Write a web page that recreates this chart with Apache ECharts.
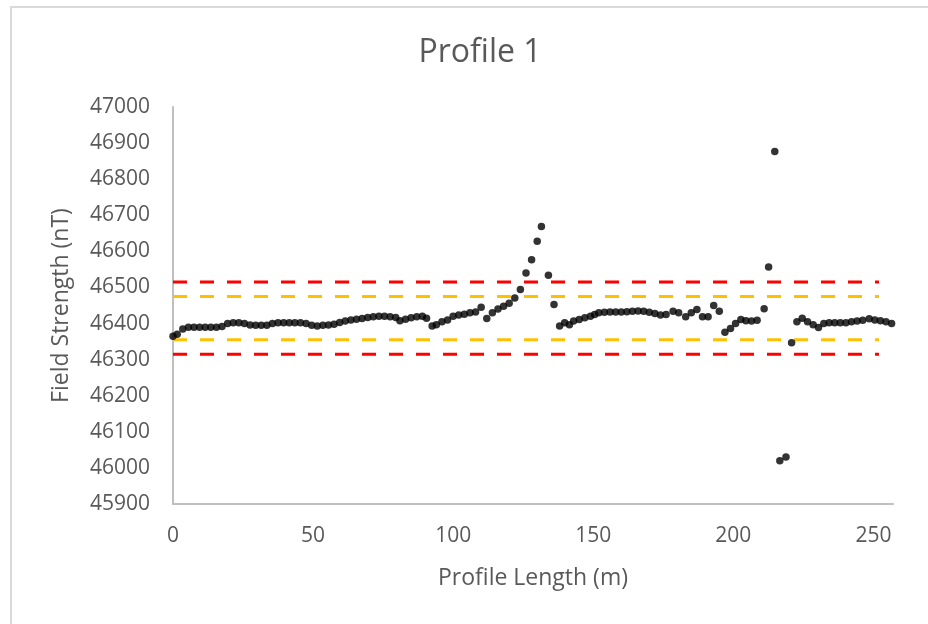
<!DOCTYPE html>
<html>
<head>
<meta charset="utf-8">
<script src="https://cdn.jsdelivr.net/npm/echarts@6/dist/echarts.min.js"></script>
<style>
  html, body { margin: 0; padding: 0; background: #fff; }
  #frame {
    position: absolute; left: 10px; top: 6px; width: 960px; height: 660px;
    border: 2px solid #d9d9d9; box-sizing: border-box;
  }
  #chart { position: absolute; left: 0; top: 0; width: 928px; height: 624px; }
</style>
</head>
<body>
<div id="frame"></div>
<div id="chart"></div>
<script>
// profile positions (m)
const profileX = [
  0, 1.5, 3.5, 5.5, 7.5, 9.5, 11.5, 13.5, 15.5, 17.5, 19.5, 21.5, 23.5, 25.5, 27.5, 29.5,
  31.5, 33.5, 35.5, 37.5, 39.5, 41.5, 43.5, 45.5, 47.5, 49.5, 51.5, 53.5, 55.5, 57.5, 59.5,
  61.5, 63.5, 65.5, 67.5, 69.5, 71.5, 73.5, 75.5, 77.5, 79.5, 81, 83, 85, 87, 89, 90.5,
  92.5, 94, 96, 98, 100, 102, 104, 106, 108, 110, 112, 114, 116, 118, 120, 122, 124, 126,
  128, 130, 131.5, 134, 136, 138, 139.8, 141.5, 143, 145, 147, 149, 150.5, 152, 154, 156,
  158, 160, 162, 164, 166, 168, 170, 172, 174, 176, 178.5, 180.5, 183, 185, 187, 189, 191,
  193, 195, 197, 199, 200.8, 202.7, 204.5, 206.5, 208.5, 211, 212.6, 214.8, 216.6, 218.8,
  220.8, 222.7, 224.6, 226.5, 228.5, 230.4, 232.3, 234.2, 236.2, 238.2, 240.2, 242.2,
  244.2, 246.2, 248.5, 250.5, 252.5, 254.5, 256.5
]
// field strength (nT)
const fieldNT = [
  46365, 46370, 46385, 46390, 46390, 46390, 46390, 46390, 46390, 46392, 46400, 46402, 46402, 46400, 46396, 46395,
  46395, 46395, 46400, 46402, 46402, 46402, 46402, 46402, 46400, 46395, 46393, 46395, 46396, 46398, 46403,
  46407, 46410, 46412, 46414, 46417, 46419, 46420, 46420, 46419, 46417, 46408, 46412, 46416, 46419, 46420, 46415,
  46393, 46397, 46405, 46410, 46420, 46424, 46426, 46430, 46432, 46445, 46414, 46430, 46440, 46448, 46456, 46471, 46494, 46540,
  46577, 46628, 46669, 46534, 46453, 46393, 46402, 46397, 46407, 46411, 46416, 46420, 46425, 46430, 46431, 46432,
  46432, 46432, 46433, 46434, 46435, 46434, 46431, 46428, 46424, 46425, 46434, 46430, 46419, 46430, 46439, 46419, 46419,
  46450, 46434, 46376, 46386, 46400, 46411, 46408, 46407, 46409, 46441, 46557, 46877, 46020, 46030,
  46347, 46405, 46415, 46405, 46397, 46389, 46400, 46402, 46402, 46402, 46402, 46405,
  46407, 46409, 46413, 46410, 46408, 46405, 46400
]
// threshold lines: mean +-100 (red), mean +-60 (yellow)
const lineX = [0, 252]
const redLevels = [46515, 46315]
const yellowLevels = [46475, 46355]

const chart = echarts.init(document.getElementById('chart'))
const font = '"Open Sans", "Noto Sans", sans-serif'

const levelSeries = (level, color) => ({
  type: 'line',
  data: lineX.map((x) => [x, level]),
  symbol: 'none',
  silent: true,
  z: 1,
  lineStyle: { color: color, width: 3, type: [14, 13] },
})

const option = {
  animation: false,
  backgroundColor: 'transparent',
  title: {
    text: 'Profile 1',
    left: 475,
    textAlign: 'center',
    top: 32,
    textStyle: { fontFamily: font, fontSize: 32, fontWeight: 'normal', color: '#595959' },
  },
  grid: { left: 173, top: 107, width: 720, height: 397 },
  xAxis: {
    type: 'value',
    min: 0,
    max: 257,
    interval: 50,
    name: 'Profile Length (m)',
    nameLocation: 'middle',
    nameGap: 63,
    nameTextStyle: { fontFamily: font, fontSize: 23, color: '#595959' },
    splitLine: { show: false },
    axisTick: { show: false },
    axisLine: { lineStyle: { color: '#bfbfbf', width: 2 } },
    axisLabel: {
      margin: 22,
      fontFamily: font,
      fontSize: 21,
      color: '#595959',
      formatter: (v) => (v % 50 === 0 ? String(v) : ''),
    },
  },
  yAxis: {
    type: 'value',
    min: 45900,
    max: 47000,
    interval: 100,
    name: 'Field Strength (nT)',
    nameLocation: 'middle',
    nameGap: 100,
    nameTextStyle: { fontFamily: font, fontSize: 23, color: '#595959' },
    splitLine: { show: false },
    axisTick: { show: false },
    axisLine: { show: true, lineStyle: { color: '#bfbfbf', width: 2 } },
    axisLabel: { margin: 23, fontFamily: font, fontSize: 21, color: '#595959', formatter: (v) => String(v) },
  },
  series: [
    levelSeries(redLevels[0], '#ff0000'),
    levelSeries(yellowLevels[0], '#ffc000'),
    levelSeries(yellowLevels[1], '#ffc000'),
    levelSeries(redLevels[1], '#ff0000'),
    {
      type: 'scatter',
      data: profileX.map((x, i) => [x, fieldNT[i]]),
      symbolSize: 7.5,
      z: 3,
      itemStyle: { color: '#000' },
    },
  ],
}
chart.setOption(option)
</script>
</body>
</html>
